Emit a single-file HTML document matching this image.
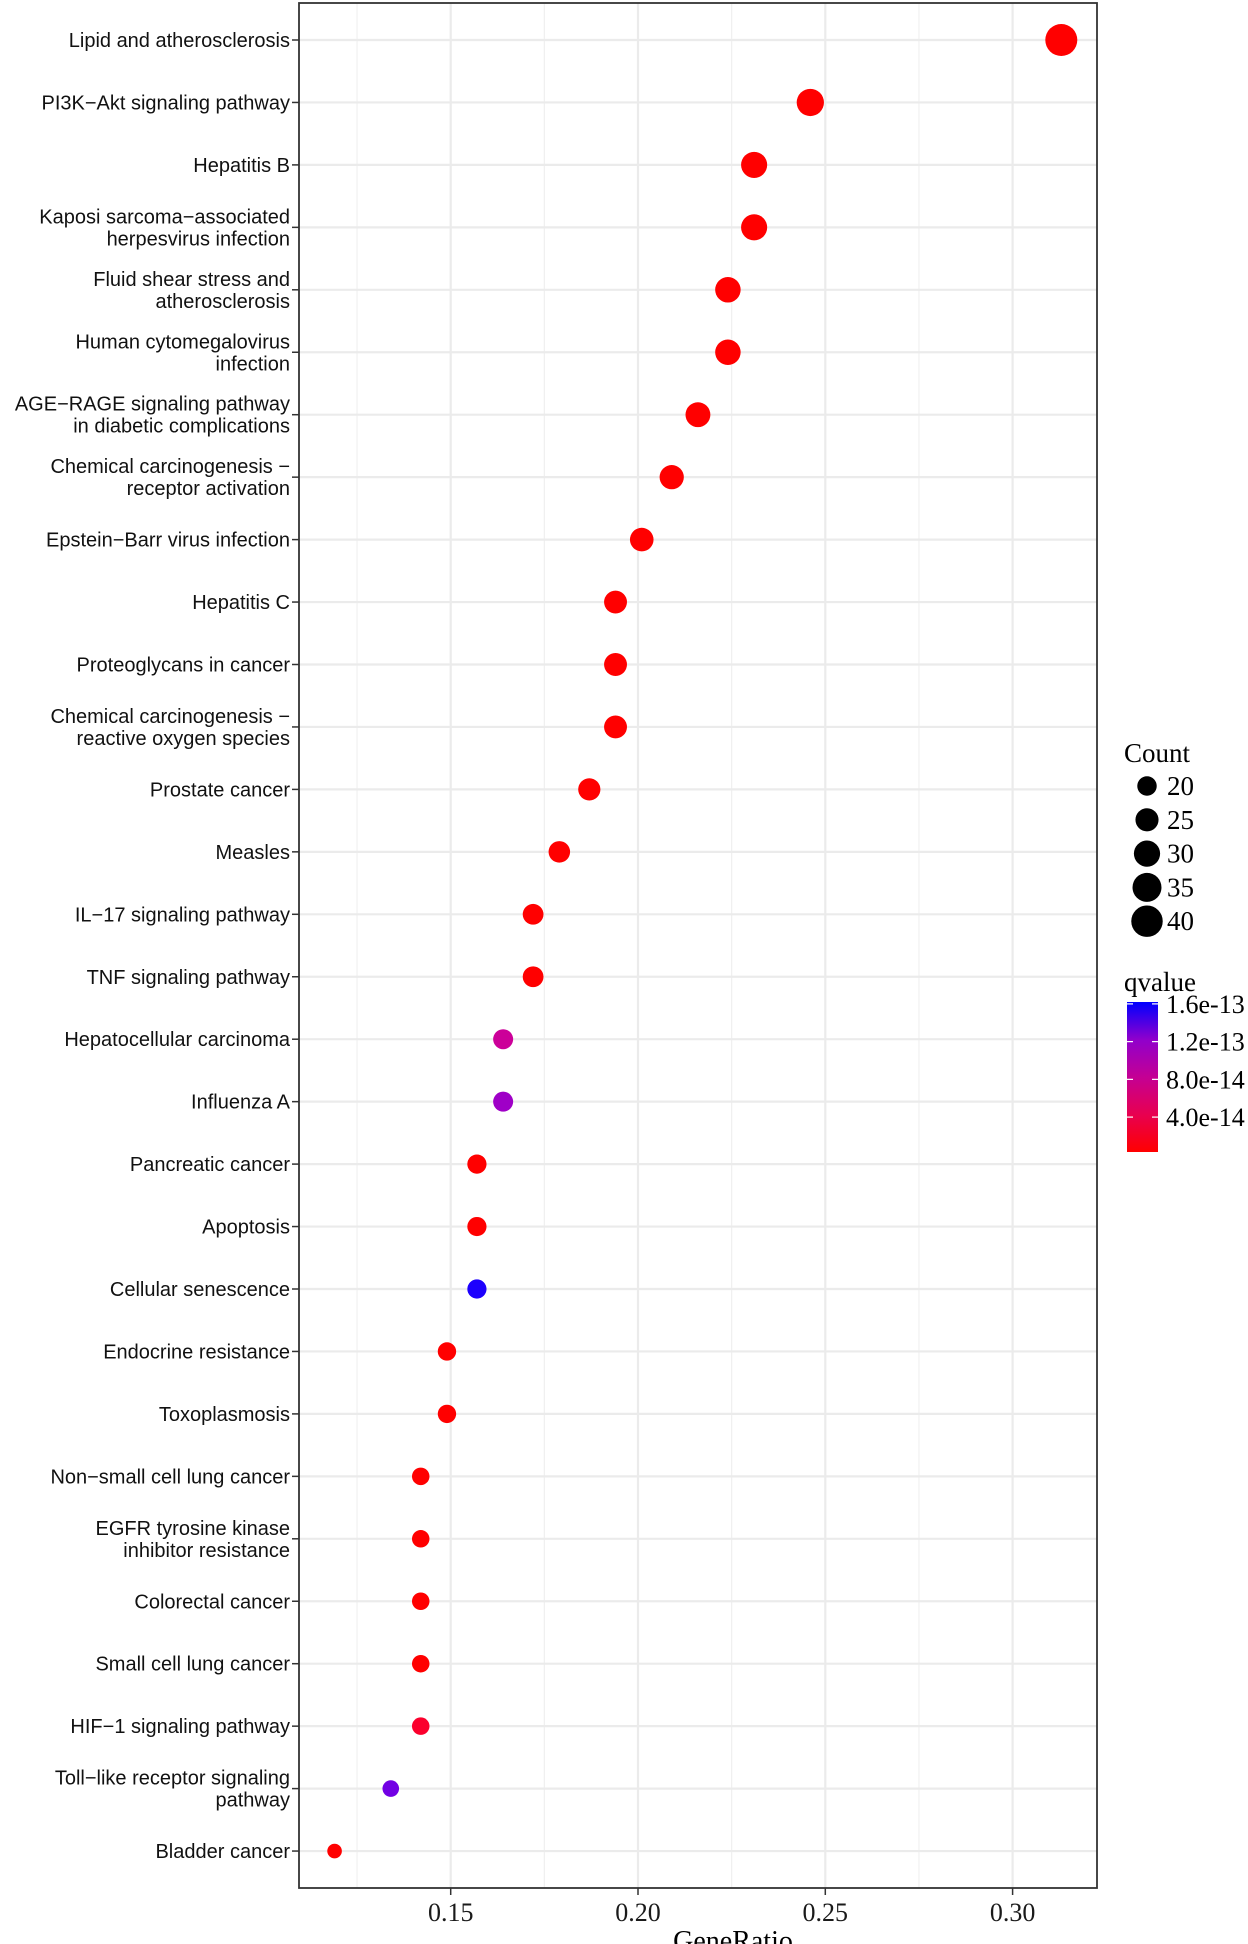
<!DOCTYPE html>
<html><head><meta charset="utf-8"><style>
html,body{margin:0;padding:0;background:#fff;}
svg{display:block;}
</style></head><body>
<svg id="chart" width="1248" height="1944" viewBox="0 0 1248 1944" xmlns="http://www.w3.org/2000/svg">
<defs><linearGradient id="qg" x1="0" y1="1" x2="0" y2="0">
<stop offset="0" stop-color="#ff0000"/><stop offset="0.25" stop-color="#e80050"/><stop offset="0.5" stop-color="#c40094"/><stop offset="0.75" stop-color="#9000cc"/><stop offset="1" stop-color="#0000ff"/>
</linearGradient></defs>
<g id="grid"></g>
<g id="dots"></g>
<g id="yaxis"></g>
<g id="xaxis"></g>
<g id="legend"></g>
</svg>
<script>
const categories = [
 ["Lipid and atherosclerosis"],["PI3K\u2212Akt signaling pathway"],["Hepatitis B"],
 ["Kaposi sarcoma\u2212associated","herpesvirus infection"],["Fluid shear stress and","atherosclerosis"],
 ["Human cytomegalovirus","infection"],["AGE\u2212RAGE signaling pathway","in diabetic complications"],
 ["Chemical carcinogenesis \u2212","receptor activation"],["Epstein\u2212Barr virus infection"],["Hepatitis C"],
 ["Proteoglycans in cancer"],["Chemical carcinogenesis \u2212","reactive oxygen species"],["Prostate cancer"],
 ["Measles"],["IL\u221217 signaling pathway"],["TNF signaling pathway"],["Hepatocellular carcinoma"],
 ["Influenza A"],["Pancreatic cancer"],["Apoptosis"],["Cellular senescence"],["Endocrine resistance"],
 ["Toxoplasmosis"],["Non\u2212small cell lung cancer"],["EGFR tyrosine kinase","inhibitor resistance"],
 ["Colorectal cancer"],["Small cell lung cancer"],["HIF\u22121 signaling pathway"],
 ["Toll\u2212like receptor signaling","pathway"],["Bladder cancer"]
];
const counts = [42,33,31,31,30,30,29,28,27,26,26,26,25,24,23,23,22,22,21,21,21,20,20,19,19,19,19,19,18,16];
const geneRatios = [0.313,0.246,0.231,0.231,0.224,0.224,0.216,0.209,0.201,0.194,0.194,0.194,0.187,0.179,0.172,0.172,0.164,0.164,0.157,0.157,0.157,0.149,0.149,0.142,0.142,0.142,0.142,0.142,0.134,0.119];
const qvalues = [3e-15,3e-15,3e-15,3e-15,3e-15,3e-15,3e-15,3e-15,3e-15,3e-15,3e-15,3e-15,3e-15,3e-15,3e-15,3e-15,6e-14,1.0e-13,3e-15,3e-15,1.6e-13,3e-15,3e-15,3e-15,3e-15,3e-15,3e-15,8e-15,1.3e-13,3e-15];
const xTicks = [0.15,0.20,0.25,0.30];
const xTickLabels = ["0.15","0.20","0.25","0.30"];
const sizeLegend = [20,25,30,35,40];
const colorTicks = [1.6e-13,1.2e-13,8.0e-14,4.0e-14];
const colorTickLabels = ["1.6e-13","1.2e-13","8.0e-14","4.0e-14"];

const NS="http://www.w3.org/2000/svg";
function mk(tag,attrs,parent){const e=document.createElementNS(NS,tag);for(const k in attrs)e.setAttribute(k,attrs[k]);parent.appendChild(e);return e;}
const L=299,R=1097,T=3,B=1888;
const x=v=>450.7+(v-0.15)*(187.3/0.05);
const y=i=>40+i*62.45;
const cMin=3e-15,cMax=1.62e-13;
const cY=v=>1152-(v-cMin)/(cMax-cMin)*150;
const rMin=7.3,rMax=16,nMin=16,nMax=42;
const r=c=>Math.sqrt(rMin*rMin+(rMax*rMax-rMin*rMin)*(c-nMin)/(nMax-nMin));
function col(q){let t=(q-cMin)/(cMax-cMin);t=Math.max(0,Math.min(1,t));
 const rr=Math.round(255*Math.sqrt(1-t)),bb=Math.round(255*Math.sqrt(t));return `rgb(${rr},0,${bb})`;}

const grid=document.getElementById('grid');
mk('rect',{x:L,y:T,width:R-L,height:B-T,fill:'#fff'},grid);
for(let i=0;i<xTicks.length+1;i++){const v=0.125+i*0.05;const xv=x(v);if(xv>L&&xv<R){
 const g=mk('line',{x1:xv,x2:xv,y1:T,y2:B,stroke:'#f0f0f0','stroke-width':1.2},grid);
 
 }}
xTicks.forEach(v=>{const g=mk('line',{x1:x(v),x2:x(v),y1:T,y2:B,stroke:'#ebebeb','stroke-width':2.2},grid);
 
 });
categories.forEach((c,i)=>{const g=mk('line',{x1:L,x2:R,y1:y(i),y2:y(i),stroke:'#ebebeb','stroke-width':2.2},grid);
 
 });

const dots=document.getElementById('dots');
categories.forEach((c,i)=>{const d=mk('circle',{cx:x(geneRatios[i]),cy:y(i),r:r(counts[i]),fill:col(qvalues[i])},dots);
 
 });
mk('rect',{x:L,y:T,width:R-L,height:B-T,fill:'none',stroke:'#333','stroke-width':1.8},dots);

const ya=document.getElementById('yaxis');
categories.forEach((c,i)=>{
 mk('line',{x1:L-7,x2:L,y1:y(i),y2:y(i),stroke:'#333','stroke-width':1.5},ya);
 const t=mk('text',{x:290,'text-anchor':'end','font-family':'Liberation Sans, sans-serif','font-size':20,fill:'#111'},ya);
 
 
 const n=c.length;
 c.forEach((line,j)=>{const ts=mk('tspan',{x:290,y:y(i)+7+(j-(n-1)/2)*22},t);ts.textContent=line;});
});

const xa=document.getElementById('xaxis');
xTicks.forEach((v,i)=>{
 mk('line',{x1:x(v),x2:x(v),y1:B,y2:B+7,stroke:'#333','stroke-width':1.5},xa);
 const t=mk('text',{x:x(v),y:1921,'text-anchor':'middle','font-family':'Liberation Serif, serif','font-size':26,fill:'#1a1a1a'},xa);
 t.textContent=xTickLabels[i];
 
 
});
const xt=mk('text',{x:733,y:1950,'text-anchor':'middle','font-family':'Liberation Serif, serif','font-size':28,fill:'#000'},xa);
xt.textContent='GeneRatio';



const lg=document.getElementById('legend');
const ct=mk('text',{x:1124,y:762,'font-family':'Liberation Serif, serif','font-size':27,fill:'#000'},lg);
ct.textContent='Count';


sizeLegend.forEach((s,i)=>{const cy=786+i*33.8;
 const c=mk('circle',{cx:1147,cy:cy,r:r(s)*0.95+1,fill:'#000'},lg);
 
 
 const t=mk('text',{x:1167,y:cy+9,'font-family':'Liberation Serif, serif','font-size':27,fill:'#000'},lg);
 t.textContent=String(s);
 
 });
const qt=mk('text',{x:1124,y:991,'font-family':'Liberation Serif, serif','font-size':27,fill:'#000'},lg);
qt.textContent='qvalue';


const cb=mk('rect',{x:1127,y:1002,width:31,height:150,fill:'url(#qg)'},lg);


colorTicks.forEach((v,i)=>{
 mk('line',{x1:1127,x2:1133,y1:cY(v),y2:cY(v),stroke:'#fff','stroke-width':1.2},lg);
 mk('line',{x1:1152,x2:1158,y1:cY(v),y2:cY(v),stroke:'#fff','stroke-width':1.2},lg);
 const t=mk('text',{x:1166,y:cY(v)+9,'font-family':'Liberation Serif, serif','font-size':26,fill:'#000'},lg);
 t.textContent=colorTickLabels[i];
 
 });
</script>
</body></html>
